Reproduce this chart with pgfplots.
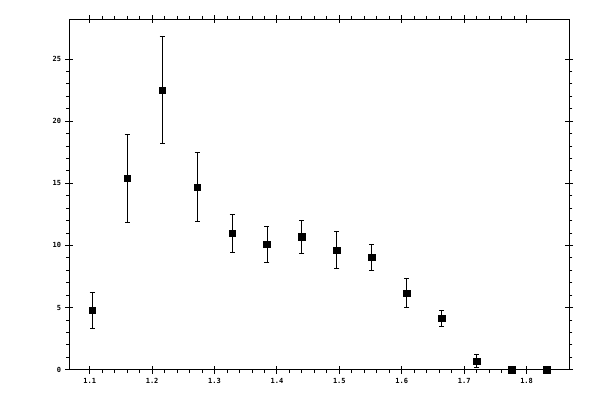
\documentclass[border=0pt]{standalone}
\usepackage{pgfplots}
\pgfplotsset{compat=1.18}
\usepackage{fontspec}
\setmonofont{DejaVu Sans Mono}
\begin{document}
\begin{tikzpicture}[x=1pt,y=1pt]
\begin{axis}[name=ax,
  scale only axis, width=499.5pt, height=350.4pt,
  xmin=1.0676, xmax=1.868, ymin=0, ymax=28.2,
  xtick={1.1,1.2,...,1.81}, ytick={0,5,...,25},
  xticklabels={1.1,1.2,1.3,1.4,1.5,1.6,1.7,1.8},
  minor x tick num=4, minor y tick num=4,
  tick align=outside, major tick length=4pt, minor tick length=3.3pt,
  extra x ticks={1.1,1.2,...,1.81}, extra y ticks={0,5,...,25},
  extra x tick labels={}, extra y tick labels={},
  extra tick style={tick align=inside, major tick length=4pt},
  tick style={black, line width=0.9pt},
  axis line style={line width=0.9pt},
  ticklabel style={font=\fontsize{7}{8}\selectfont\ttfamily\bfseries},
  xticklabel style={yshift=-1.5pt},
  yticklabel style={xshift=-1pt},
  /pgf/number format/assume math mode=true,
  yticklabel={\pgfmathprintnumber[fixed]{\tick}},
  clip=false,
]
\addplot[only marks, mark=square*, mark size=3.3pt, black,
  error bars/.cd, y dir=both, y explicit,
  error bar style={line width=0.9pt},
  error mark options={rotate=90, mark size=2.5pt, line width=0.9pt}]
 table[x=x, y=y, y error=e] {
 x y e
 1.104 4.78 1.45
 1.160 15.41 3.54
 1.216 22.50 4.30
 1.272 14.69 2.78
 1.328 10.98 1.53
 1.384 10.10 1.46
 1.440 10.68 1.33
 1.496 9.61 1.49
 1.552 9.05 1.05
 1.608 6.15 1.17
 1.664 4.14 0.65
 1.720 0.68 0.52
 1.776 0.02 0.0
 1.832 0.02 0.0
 };
\end{axis}
\path (ax.south west) ++(-69.5pt,-30.3pt) rectangle ++(600pt,400pt);
\end{tikzpicture}
\end{document}
